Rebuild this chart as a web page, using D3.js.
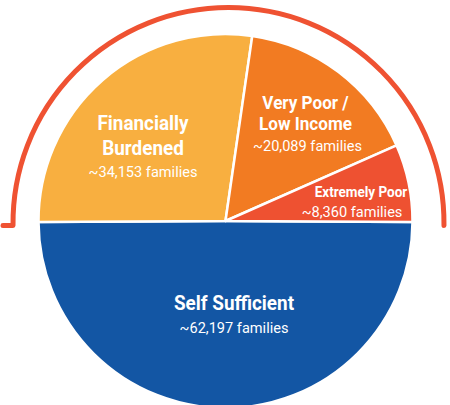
<!DOCTYPE html>
<html>
<head>
<meta charset="utf-8">
<script src="https://cdn.jsdelivr.net/npm/d3@7/dist/d3.min.js"></script>
<style>
  body { margin: 0; background: #fff; }
  svg { display: block; }
  text { font-family: Roboto, "Noto Sans", sans-serif; fill: #fff; }
</style>
</head>
<body>
<svg id="chart" width="450" height="405"></svg>
<script>
// data
const groups   = ["Self Sufficient", "Financially Burdened", "Very Poor / Low Income", "Extremely Poor"];
const families = [62197, 34153, 20089, 8360];
const colours  = ["#1356a4", "#f8af40", "#f27b22", "#ee5131"];
const titleLines = [["Self Sufficient"], ["Financially", "Burdened"], ["Very Poor /", "Low Income"], ["Extremely Poor"]];

const width = 450, height = 405;
const cx = 225.5, cy = 221, radius = 187;

const svg = d3.select("#chart");

// blue half centred under the horizon
const total = d3.sum(families);
const blueSpan = families[0] / total * 2 * Math.PI;
const start = Math.PI - blueSpan / 2;

const pie = d3.pie().sort(null).startAngle(start).endAngle(start + 2 * Math.PI);
const arc = d3.arc().innerRadius(0).outerRadius(radius);

const g = svg.append("g").attr("transform", `translate(${cx},${cy})`);

g.selectAll("path.slice")
  .data(pie(families))
  .join("path")
  .attr("class", "slice")
  .attr("d", arc)
  .attr("fill", (d, i) => colours[i])
  .attr("stroke", "#fff")
  .attr("stroke-width", 2.5)
  .attr("stroke-linejoin", "round");

// outer red ring over the top half
const rx = 228.5, ry = 223, rr = 215.5;
const ring = d3.path();
ring.moveTo(rx - rr - 10, ry + 2.5);
ring.arc(rx, ry, rr, Math.PI - 0.012, 2 * Math.PI + 0.012, false);
svg.append("path")
  .attr("d", ring.toString())
  .attr("fill", "none")
  .attr("stroke", "#ef5232")
  .attr("stroke-width", 5)
  .attr("stroke-linecap", "round")
  .attr("stroke-linejoin", "round");

// label layout
const labelPos = [
  { x: 234, y: 310, size: 21, gap: 25, sub: 333, sx: 234 },
  { x: 143, y: 130, size: 21, gap: 25, sub: 177, sx: 143 },
  { x: 305.5, y: 109, size: 19, gap: 21, sub: 151, sx: 307.5 },
  { x: 361, y: 197, size: 15, gap: 20, sub: 217, sx: 352 }
];

const fmt = d3.format(",");

labelPos.forEach((p, i) => {
  titleLines[i].forEach((line, j) => {
    svg.append("text")
      .attr("transform", `translate(${p.x},${p.y + j * p.gap}) scale(0.9,1)`)
      .attr("text-anchor", "middle")
      .attr("font-weight", 700)
      .attr("font-size", p.size)
      .text(line);
  });
  svg.append("text")
    .attr("transform", `translate(${p.sx},${p.sub}) scale(0.94,1)`)
    .attr("text-anchor", "middle")
    .attr("font-weight", 400)
    .attr("font-size", 15.5)
    .text("~" + fmt(families[i]) + " families");
});
</script>
</body>
</html>
